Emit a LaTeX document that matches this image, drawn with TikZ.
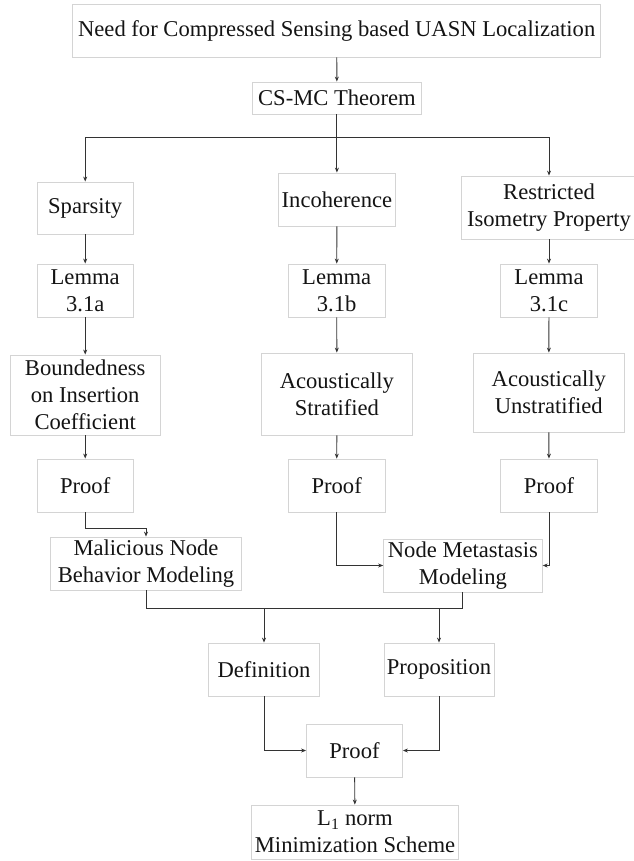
\documentclass[tikz,border=0pt]{standalone}
\usepackage{fontspec}
\IfFontExistsTF{LiberationSerif-Regular.ttf}{\setmainfont{LiberationSerif-Regular.ttf}}{\setmainfont{Liberation Serif}}
\usetikzlibrary{arrows.meta}
\definecolor{boxline}{HTML}{D4D4D4}
\definecolor{conn}{HTML}{333333}
\definecolor{txt}{HTML}{141414}
\begin{document}
\begin{tikzpicture}[x=1pt,y=-1pt,
  bx/.style={draw=boxline,line width=0.8pt,fill=white,inner sep=0pt,align=center,
    text=txt,font=\fontsize{22.6}{26.8}\selectfont},
  arr/.style={draw=conn,line width=0.9pt,-{Stealth[length=5pt,width=4pt]}},
  ln/.style={draw=conn,line width=0.9pt}]
\useasboundingbox (0,0) rectangle (633,861);
\fill[white] (0,0) rectangle (633,861);
% nodes
\node[bx,minimum width=528pt,minimum height=53pt] (top) at (336.7,30.5) {Need for Compressed Sensing based UASN Localization};
\node[bx,minimum width=169pt,minimum height=32pt] (csmc) at (336.9,98) {CS-MC Theorem};
\node[bx,minimum width=96pt,minimum height=52pt] (spars) at (85.2,208) {Sparsity};
\node[bx,minimum width=117pt,minimum height=53pt] (incoh) at (336.9,199.5) {Incoherence};
\node[bx,minimum width=175pt,minimum height=63pt] (rip) at (549,207.5) {Restricted\\Isometry Property};
\node[bx,minimum width=96pt,minimum height=53pt] (lemA) at (85.2,290.5) {Lemma\\3.1a};
\node[bx,minimum width=97pt,minimum height=53pt] (lemB) at (336.7,290.5) {Lemma\\3.1b};
\node[bx,minimum width=97pt,minimum height=53pt] (lemC) at (549,290.5) {Lemma\\3.1c};
\node[bx,minimum width=150pt,minimum height=80pt] (bound) at (85.2,395) {Boundedness\\on Insertion\\Coefficient};
\node[bx,minimum width=150.6pt,minimum height=82pt] (strat) at (336.9,394) {Acoustically\\Stratified};
\node[bx,minimum width=151.4pt,minimum height=79pt] (unstrat) at (548.8,392.5) {Acoustically\\Unstratified};
\node[bx,minimum width=96pt,minimum height=53pt] (proofA) at (85.2,485.5) {Proof};
\node[bx,minimum width=97pt,minimum height=53pt] (proofB) at (336.7,485.5) {Proof};
\node[bx,minimum width=97pt,minimum height=53pt] (proofC) at (549,485.5) {Proof};
\node[bx,minimum width=191pt,minimum height=53pt] (mal) at (146,563.5) {Malicious Node\\Behavior Modeling};
\node[bx,minimum width=158.7pt,minimum height=53pt] (meta) at (462.9,565.5) {Node Metastasis\\Modeling};
\node[bx,minimum width=110.6pt,minimum height=53pt] (def) at (264,669.5) {Definition};
\node[bx,minimum width=110.2pt,minimum height=53pt] (prop) at (439,669.5) {Proposition};
\node[bx,minimum width=96pt,minimum height=53pt] (proofF) at (354.5,750.5) {Proof};
\node[bx,minimum width=207pt,minimum height=54pt] (l1) at (355,832) {L\textsubscript{1} norm\\Minimization Scheme};
% connectors
\coordinate (br) at (336.9,137);
\coordinate (ml) at (146,608);
\coordinate (mr) at (462.9,608);
\draw[arr] (top) -- (csmc);
\draw[arr] (csmc) -- (incoh);
\draw[arr] (br) -| (spars.north);
\draw[arr] (br) -| (rip.north);
\draw[arr] (spars) -- (lemA);
\draw[arr] (lemA) -- (bound);
\draw[arr] (bound) -- (proofA);
\draw[arr] (incoh) -- (lemB);
\draw[arr] (lemB) -- (strat);
\draw[arr] (strat) -- (proofB);
\draw[arr] (rip.south -| lemC) -- (lemC);
\draw[arr] (lemC) -- (unstrat);
\draw[arr] (unstrat) -- (proofC);
\draw[arr] (proofA.south) -- ++(0,15.7) -| (mal.north);
\draw[arr] (proofB.south) |- (meta.west);
\draw[arr] (proofC.south) |- (meta.east);
\draw[ln] (mal.south) -- (ml) -- (mr) -- (meta.south);
\draw[arr] (def.north |- ml) -- (def.north);
\draw[arr] (prop.north |- ml) -- (prop.north);
\draw[arr] (def.south) |- (proofF.west);
\draw[arr] (prop.south) |- (proofF.east);
\draw[arr] (proofF) -- (l1);
\end{tikzpicture}
\end{document}
